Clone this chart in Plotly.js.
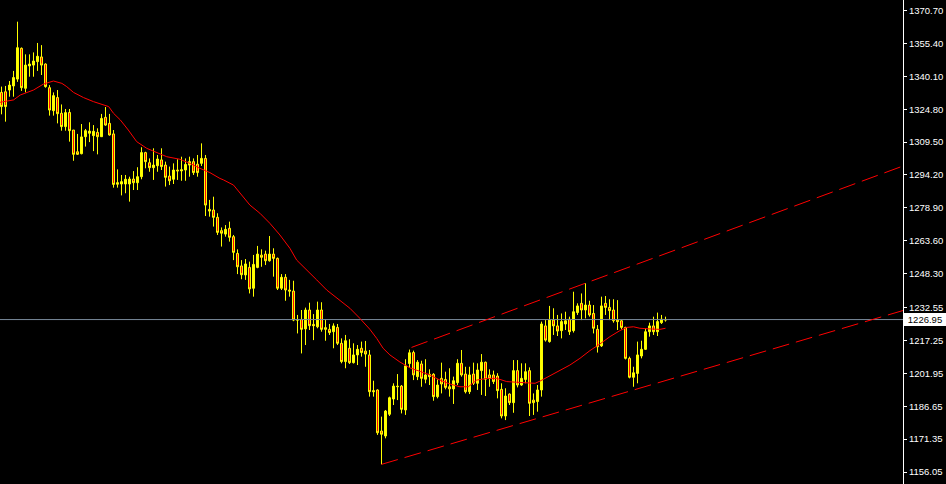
<!DOCTYPE html>
<html>
<head>
<meta charset="utf-8">
<script src="https://cdn.plot.ly/plotly-3.0.1.min.js"></script>
<style>
html,body{margin:0;padding:0;background:#000;}
#chart{width:946px;height:484px;}
</style>
</head>
<body>
<div id="chart"></div>
<script>
// ---- candle data (bar index, open, high, low, close) ----
const openP = [1332.6,1332.9,1333.7,1335.6,1338.8,1353.1,1334.5,1344.9,1345.3,1346.9,
1349.1,1345.8,1334.8,1324.1,1330.2,1322.9,1316.7,1323.3,1315.1,1305.0,
1304.1,1312.0,1313.6,1312.5,1314.0,1312.0,1321.0,1318.2,1313.3,1289.9,
1290.0,1290.0,1290.0,1292.3,1290.6,1293.4,1304.6,1299.9,1297.6,1298.5,
1301.2,1298.8,1293.7,1292.2,1296.5,1296.1,1296.5,1298.8,1300.4,1299.2,
1299.6,1301.9,1278.2,1277.9,1274.5,1268.3,1266.7,1269.4,1265.5,1257.7,
1251.9,1247.7,1251.2,1241.5,1251.2,1256.9,1257.4,1254.3,1257.4,1255.4,
1241.5,1246.6,1240.7,1240.2,1227.0,1227.0,1222.6,1231.4,1224.7,1223.6,
1231.4,1223.2,1222.4,1221.3,1223.3,1215.9,1207.4,1213.6,1206.9,1210.5,
1213.6,1212.3,1210.5,1193.9,1194.2,1175.1,1172.8,1182.9,1190.0,1195.7,
1196.0,1184.9,1206.5,1211.6,1200.4,1206.3,1199.2,1200.4,1201.5,1191.1,
1199.6,1199.1,1195.7,1194.7,1197.6,1206.6,1201.6,1193.4,1201.6,1197.3,
1203.2,1207.1,1201.2,1201.2,1200.7,1194.5,1182.1,1192.3,1188.3,1203.2,
1196.5,1199.1,1203.2,1189.5,1188.8,1194.2,1224.0,1216.7,1226.7,1224.0,
1221.8,1224.9,1227.1,1221.8,1230.2,1234.5,1231.4,1233.7,1229.8,1222.4,
1214.7,1234.5,1232.6,1231.4,1226.7,1226.4,1223.3,1208.9,1200.1,1201.9,
1210.0,1213.1,1221.3,1224.0,1221.3,1225.5,1226.7];
const highP = [1335.3,1335.6,1337.9,1342.6,1365.5,1353.5,1350.3,1350.3,1351.2,1355.6,
1354.6,1346.1,1336.0,1332.6,1333.7,1327.0,1324.9,1324.9,1315.1,1313.3,
1317.9,1315.6,1318.7,1317.4,1315.9,1322.6,1325.8,1322.6,1315.1,1296.8,
1294.2,1294.2,1293.4,1296.0,1297.8,1307.1,1305.0,1301.9,1306.6,1303.5,
1306.6,1300.4,1298.1,1299.6,1301.5,1302.7,1301.9,1302.7,1301.9,1303.5,
1308.9,1303.5,1282.6,1284.1,1276.4,1269.8,1270.9,1272.5,1266.3,1259.6,
1254.6,1255.1,1253.9,1257.0,1261.2,1259.6,1259.0,1265.8,1260.1,1255.8,
1248.1,1248.1,1245.4,1245.0,1229.1,1231.4,1232.5,1234.8,1229.5,1235.3,
1235.0,1227.1,1224.9,1225.2,1224.9,1218.2,1219.8,1217.8,1215.9,1215.1,
1216.7,1217.0,1212.8,1198.5,1194.5,1181.8,1184.9,1191.1,1197.3,1201.6,
1196.5,1208.5,1213.0,1212.5,1208.1,1207.8,1208.5,1203.8,1202.0,1199.1,
1206.9,1202.7,1204.3,1200.4,1208.5,1212.8,1205.0,1205.0,1206.9,1206.6,
1210.9,1207.4,1203.8,1203.2,1202.0,1197.3,1195.0,1192.6,1208.1,1208.1,
1206.6,1206.6,1204.7,1192.6,1196.5,1226.0,1226.7,1233.3,1232.2,1229.1,
1229.8,1230.6,1228.3,1239.9,1234.5,1239.1,1243.8,1235.7,1233.7,1224.4,
1237.6,1237.9,1236.4,1236.4,1236.0,1226.7,1223.6,1209.7,1205.0,1216.7,
1217.1,1222.9,1225.5,1228.3,1230.2,1229.1,1228.3];
const lowP = [1322.4,1319.0,1330.6,1330.6,1337.5,1333.3,1332.6,1339.9,1339.9,1342.6,
1340.7,1334.8,1321.8,1321.8,1318.2,1314.8,1314.8,1309.7,1300.8,1303.5,
1303.8,1307.4,1309.5,1305.3,1303.8,1312.0,1317.1,1312.5,1288.3,1288.3,
1284.7,1285.7,1281.8,1287.2,1287.2,1292.2,1297.3,1295.7,1291.9,1295.7,
1296.5,1288.8,1289.5,1290.0,1291.9,1291.5,1291.5,1293.4,1294.2,1293.4,
1298.4,1275.1,1274.8,1270.2,1266.3,1260.9,1265.5,1263.2,1254.6,1248.1,
1245.7,1245.4,1239.1,1237.6,1250.8,1251.5,1252.3,1253.9,1246.9,1240.7,
1240.7,1235.7,1237.6,1226.2,1220.5,1211.2,1215.1,1222.1,1217.4,1222.9,
1221.3,1217.1,1219.8,1213.6,1215.1,1206.6,1204.3,1206.3,1206.5,1205.8,
1209.7,1205.0,1191.1,1191.1,1173.3,1159.6,1171.7,1182.1,1187.2,1189.5,
1183.3,1182.6,1204.5,1198.8,1198.8,1195.7,1197.3,1196.5,1189.2,1190.3,
1192.6,1194.5,1191.1,1187.7,1196.5,1200.4,1192.6,1192.3,1196.5,1194.2,
1191.9,1191.4,1195.7,1197.0,1190.3,1181.0,1180.2,1187.2,1183.6,1195.4,
1196.1,1197.3,1182.1,1182.6,1184.1,1191.1,1216.7,1216.2,1219.8,1219.3,
1218.2,1222.1,1219.8,1220.9,1229.1,1226.7,1227.5,1228.3,1220.5,1211.6,
1214.2,1229.1,1226.7,1225.5,1222.1,1222.4,1208.4,1199.6,1195.7,1197.3,
1208.9,1212.8,1219.0,1219.8,1219.3,1224.9,1226.0];
const closeP = [1326.0,1326.0,1336.0,1339.5,1353.4,1334.8,1345.3,1345.8,1347.2,1349.4,
1345.3,1335.3,1324.4,1331.1,1322.7,1316.7,1323.2,1314.8,1303.8,1303.8,
1311.9,1314.8,1314.6,1314.5,1312.0,1320.5,1317.4,1312.8,1289.8,1290.6,
1291.1,1292.2,1292.3,1290.6,1293.4,1304.6,1300.4,1297.6,1298.8,1301.6,
1298.1,1293.1,1291.5,1296.5,1296.1,1296.6,1299.1,1300.4,1295.3,1295.3,
1301.9,1280.2,1277.4,1274.5,1267.5,1267.1,1268.9,1265.2,1258.2,1251.5,
1247.8,1252.8,1241.2,1252.6,1257.4,1255.9,1254.3,1257.4,1255.4,1241.5,
1246.6,1240.7,1240.2,1226.7,1226.7,1222.4,1231.4,1224.1,1224.1,1231.4,
1222.4,1222.4,1220.9,1224.0,1215.9,1207.4,1217.1,1206.9,1210.5,1213.1,
1211.6,1210.9,1193.4,1193.4,1174.3,1173.6,1184.4,1190.6,1196.0,1195.9,
1185.2,1205.4,1211.5,1201.2,1207.1,1199.6,1201.2,1201.5,1191.1,1196.5,
1197.0,1195.4,1194.7,1198.5,1206.6,1201.2,1193.4,1201.2,1197.3,1203.5,
1207.1,1199.2,1199.6,1198.1,1193.9,1182.1,1191.4,1188.3,1203.2,1196.5,
1199.6,1202.7,1188.0,1188.3,1194.2,1224.9,1217.4,1226.7,1224.0,1221.6,
1226.0,1226.4,1221.3,1230.6,1233.3,1231.4,1233.7,1229.1,1222.9,1214.3,
1233.3,1232.6,1231.1,1226.4,1226.0,1223.3,1208.9,1200.1,1202.2,1210.5,
1213.1,1221.3,1224.0,1221.3,1226.0,1227.1,1226.95];
const barIndex = openP.map((_, i) => i);

// ---- moving average ----
const maX = [-0.4,3,4.7,8,10.5,12.2,13,15.1,16.3,18,20.5,23,25.5,26.8,28,29.7,31.7,33.8,36.3,38.8,
41.3,44.6,47.1,49.6,52.1,54.6,55.5,58,59.6,62.1,64.6,67.1,69.6,72.1,73.8,76.4,78.8,81.3,84.6,87.1,
89.6,92.1,93.8,95.4,97.1,99.6,102.1,104.6,107.1,109.6,112.1,114.6,116.7,118.8,121.4,123.8,126.3,128.8,131.3,133.4,
134.6,137.1,139.6,142.1,144.6,147.1,149.6,152.1,154.6,156.3,158,159.6,162.1,164.6,166];
const maY = [1328.0,1329.1,1331.4,1333.7,1336.5,1337.6,1337.9,1336.8,1335.3,1332.6,1330.2,1328.3,1326.7,1326.0,1322.9,1319.8,1315.1,1309.7,1306.6,1304.6,
1302.7,1301.5,1299.6,1297.3,1295.3,1292.6,1291.9,1289.5,1285.7,1280.2,1276.4,1271.7,1266.3,1260.1,1254.6,1250.0,1245.4,1240.7,1236.0,1232.2,
1227.5,1222.4,1218.2,1213.6,1210.5,1207.2,1204.5,1202.7,1201.2,1198.8,1197.0,1195.7,1195.7,1198.8,1199.6,1199.6,1198.1,1197.8,1197.6,1197.3,
1198.3,1200.7,1203.2,1205.8,1208.9,1212.5,1215.6,1219.0,1221.8,1223.3,1223.6,1222.9,1222.6,1222.4,1222.9];

// ---- trend lines and current price ----
const upperLineX = [102.5, 226];
const upperLineY = [1214.0, 1298.8];
const lowerLineX = [95, 226];
const lowerLineY = [1159.6, 1231.5];
const currentPrice = 1226.95;
const priceLineX = [-1, 226];

// ---- axis labels ----
const tickValues = [1370.70,1355.40,1340.10,1324.80,1309.50,1294.20,1278.90,1263.60,1248.30,1232.55,1217.25,1201.95,1186.65,1171.35,1156.05];
const tickLabels = tickValues.map(v => v.toFixed(2));

const traces = [
  {type:'scatter', mode:'lines', x:priceLineX, y:[currentPrice,currentPrice],
   line:{color:'#778899', width:1}, hoverinfo:'skip'},
  {type:'candlestick', x:barIndex, open:openP, high:highP, low:lowP, close:closeP,
   increasing:{line:{color:'#ffff00', width:1}, fillcolor:'#ffff00'},
   decreasing:{line:{color:'#ffff00', width:1}, fillcolor:'#ff0000'},
   whiskerwidth:0, hoverinfo:'skip'},
  {type:'scatter', mode:'lines', x:maX, y:maY, line:{color:'#ff0000', width:1}, hoverinfo:'skip'},
  {type:'scatter', mode:'lines', x:upperLineX, y:upperLineY,
   line:{color:'#ff0000', width:1, dash:'17px,7px'}, hoverinfo:'skip'},
  {type:'scatter', mode:'lines', x:lowerLineX, y:lowerLineY,
   line:{color:'#ff0000', width:1, dash:'17px,7px'}, hoverinfo:'skip'}
];

const layout = {
  width:946, height:484,
  margin:{l:0, r:43, t:0, b:0, pad:0},
  paper_bgcolor:'#000000', plot_bgcolor:'#000000',
  showlegend:false,
  xaxis:{range:[-0.375, 225.375], visible:false, showgrid:false, zeroline:false,
         rangeslider:{visible:false}, fixedrange:true},
  yaxis:{range:[1150.47, 1375.58], side:'right', showgrid:false, zeroline:false,
         tickmode:'array', tickvals:tickValues, ticktext:tickLabels,
         ticks:'outside', ticklen:3, tickwidth:1, tickcolor:'#ffffff',
         showline:true, linecolor:'#ffffff', linewidth:1,
         tickfont:{family:'Liberation Sans, Arial, sans-serif', size:9.5, color:'#ffffff'},
         fixedrange:true},
  annotations:[{
    xref:'paper', yref:'y', x:1, y:currentPrice, xanchor:'left', yanchor:'middle',
    xshift:1, text:currentPrice.toFixed(2), showarrow:false,
    bgcolor:'#ffffff', borderpad:1, borderwidth:0,
    font:{family:'Liberation Sans, Arial, sans-serif', size:9.5, color:'#000000'},
    width:40, align:'center'
  }]
};

Plotly.newPlot('chart', traces, layout, {staticPlot:true, displayModeBar:false});
</script>
</body>
</html>
